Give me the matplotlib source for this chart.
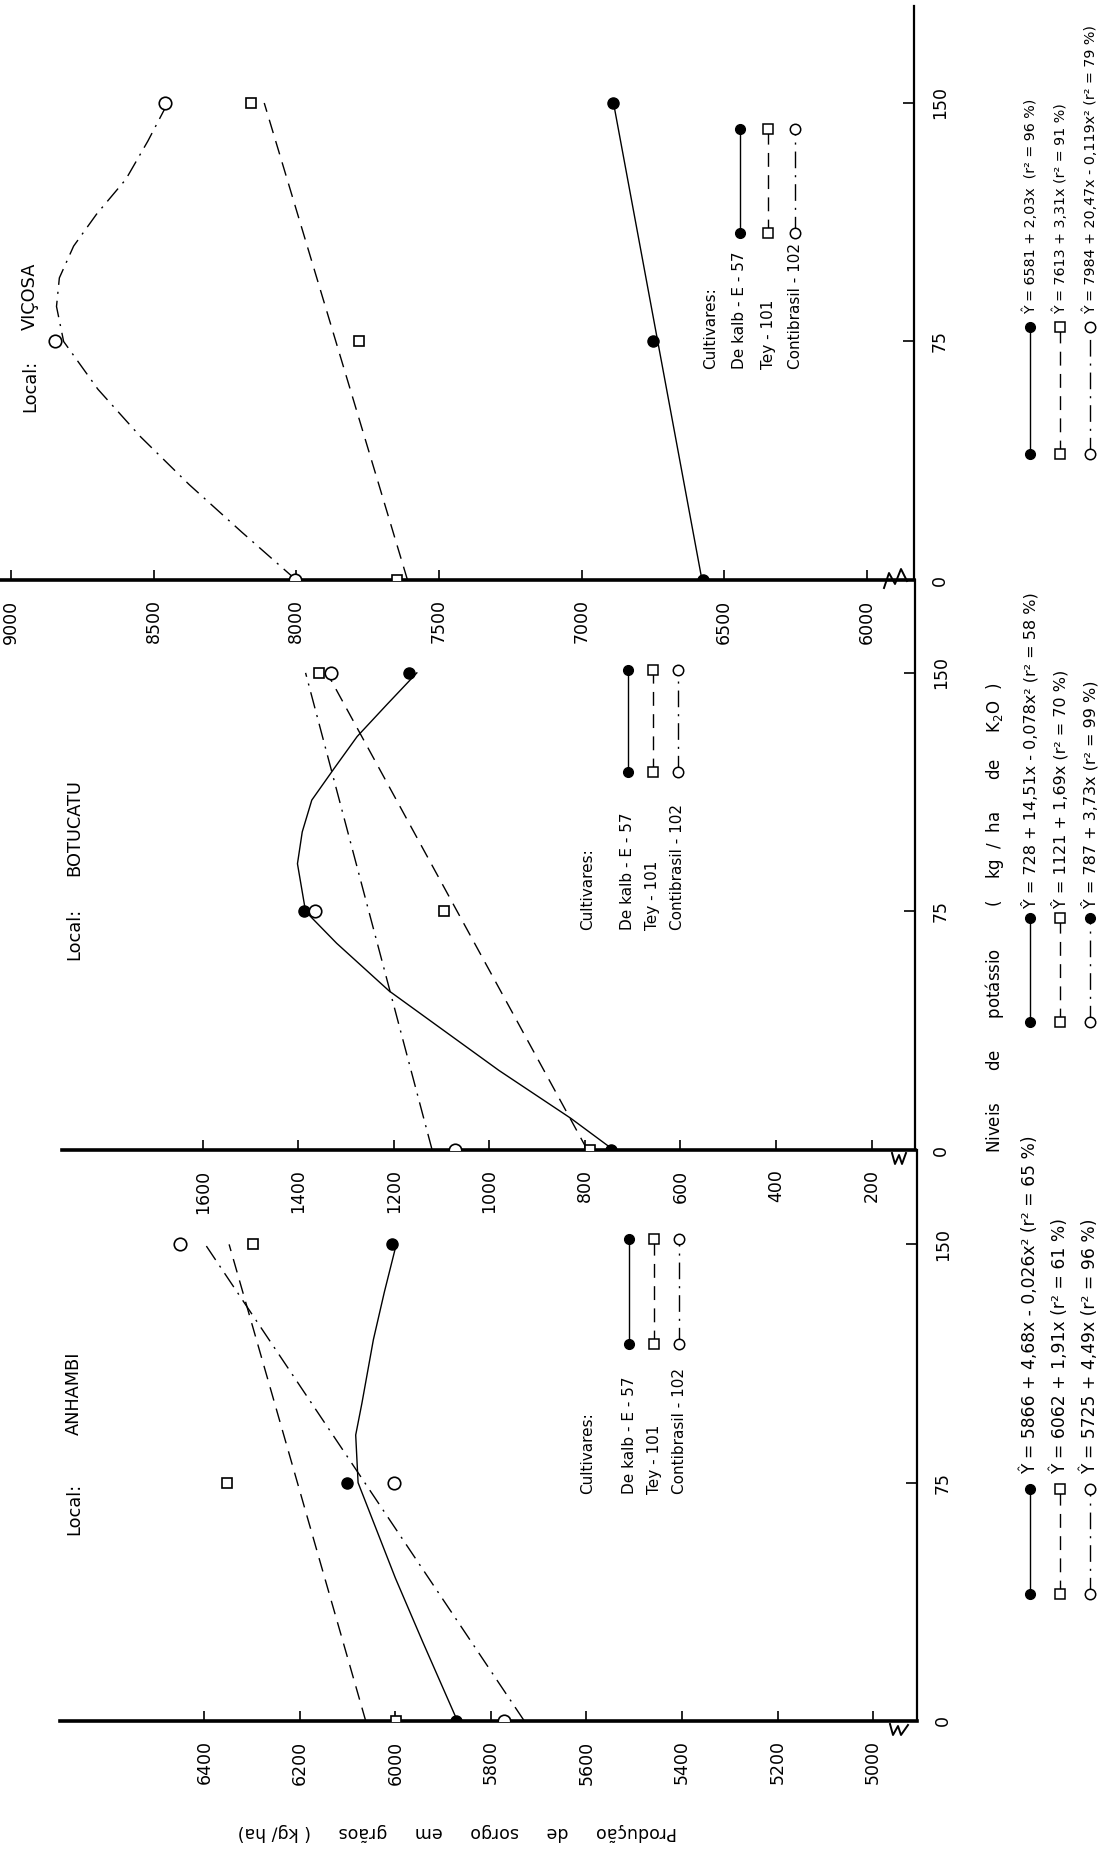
import matplotlib
matplotlib.use("Agg")
import matplotlib.pyplot as plt
from matplotlib.lines import Line2D

plt.rcParams['font.family'] = ['DejaVu Sans']

# ---------------- data ----------------
levels = [0, 75, 150]
fit_ends = [0, 150]
level_ticks = [0, 75, 150]
level_labels = ['0', '75', '150']

# Viçosa
vic_yield_ticks = [9000, 8500, 8000, 7500, 7000, 6500, 6000]
vic_dekalb = [6575, 6748, 6890]
vic_tey = [7646, 7781, 8158]
vic_conti = [8003, 8846, 8459]
vic_dekalb_fit = [6578, 6888]
vic_tey_fit = [7610, 8112]
vic_conti_curve_lv = [0, 15, 30, 45, 60, 75, 86, 95, 105, 115, 126, 138, 150]
vic_conti_curve = [8000, 8190, 8375, 8545, 8695, 8815, 8840, 8830, 8780, 8700, 8597, 8520, 8450]

# Botucatu
bot_yield_ticks = [1600, 1400, 1200, 1000, 800, 600, 400, 200]
bot_dekalb = [745, 1388, 1169]
bot_tey = [790, 1095, 1357]
bot_conti = [1073, 1365, 1331]
bot_dekalb_curve_lv = [0, 10, 25, 50, 65, 75, 90, 100, 110, 120, 130, 140, 150]
bot_dekalb_curve = [740, 830, 980, 1210, 1320, 1385, 1402, 1392, 1372, 1325, 1277, 1215, 1152]
bot_tey_fit = [795, 1340]
bot_conti_fit = [1120, 1385]

# Anhambi
anh_yield_ticks = [6400, 6200, 6000, 5800, 5600, 5400, 5200, 5000]
anh_dekalb = [5872, 6101, 6006]
anh_tey = [5999, 6352, 6297]
anh_conti = [5773, 6002, 6451]
anh_dekalb_curve_lv = [0, 25, 45, 75, 90, 100, 120, 135, 150]
anh_dekalb_curve = [5870, 5943, 6000, 6078, 6083, 6070, 6046, 6023, 5998]
anh_tey_fit = [6062, 6348]
anh_conti_fit = [5730, 6398]

cultivars = ['De kalb - E - 57', 'Tey - 101', 'Contibrasil - 102']
vic_eqs = ['Ŷ = 6581 + 2,03x  (r² = 96 %)',
           'Ŷ = 7613 + 3,31x (r² = 91 %)',
           'Ŷ = 7984 + 20,47x - 0,119x² (r² = 79 %)']
bot_eqs = ['Ŷ = 728 + 14,51x - 0,078x² (r² = 58 %)',
           'Ŷ = 1121 + 1,69x (r² = 70 %)',
           'Ŷ = 787 + 3,73x (r² = 99 %)']
anh_eqs = ['Ŷ = 5866 + 4,68x - 0,026x² (r² = 65 %)',
           'Ŷ = 6062 + 1,91x (r² = 61 %)',
           'Ŷ = 5725 + 4,49x (r² = 96 %)']

# ---------------- figure ----------------
W, H = 1103, 1854
DPI = 100
fig = plt.figure(figsize=(W / DPI, H / DPI), dpi=DPI)
fig.patch.set_facecolor('white')


def fx(x):
    return x / W


def fy(y):
    return 1 - y / H


def add_panel(left, top, right, bottom, xlim, ylim):
    ax = fig.add_axes([fx(left), fy(bottom), (right - left) / W, (bottom - top) / H])
    ax.set_xlim(*xlim)
    ax.set_ylim(*ylim)
    ax.set_facecolor('none')
    for s in ('top', 'left'):
        ax.spines[s].set_visible(False)
    ax.spines['bottom'].set_linewidth(2.6)
    ax.spines['right'].set_linewidth(1.6)
    ax.yaxis.tick_right()
    ax.set_yticks(level_ticks)
    ax.set_yticklabels(level_labels)
    ax.tick_params(axis='y', direction='in', length=8, width=1.2, pad=12,
                   labelsize=12.5, labelrotation=90)
    for lab in ax.get_yticklabels():
        lab.set_va('center')
    ax.tick_params(axis='x', direction='in', length=7, width=1.2, pad=14,
                   labelsize=12.5, labelrotation=90)
    return ax


DASH = (0, (10, 6))
DASHDOT = (0, (12, 5, 1.5, 5))
LW = 1.0


def draw_series(ax, dk, tey, con, dk_fit, tey_fit, con_fit):
    # fitted curves / lines
    ax.plot(dk_fit[1], dk_fit[0], color='black', lw=LW, ls='-', zorder=2)
    ax.plot(tey_fit[1], tey_fit[0], color='black', lw=LW, ls=DASH, zorder=2)
    ax.plot(con_fit[1], con_fit[0], color='black', lw=LW, ls=DASHDOT, zorder=2)
    # observed points
    ax.plot(dk, levels, ls='none', marker='o', ms=8, mfc='black', mec='black', zorder=4)
    ax.plot(tey, levels, ls='none', marker='s', ms=7.5, mfc='white', mec='black', mew=1.2, zorder=4)
    ax.plot(con, levels, ls='none', marker='o', ms=9, mfc='white', mec='black', mew=1.2, zorder=4)


# Viçosa panel
ax_v = add_panel(0, 6, 914, 580, (9038, 5835), (0, 180.5))
ax_v.set_xticks(vic_yield_ticks)
ax_v.set_xticklabels([str(v) for v in vic_yield_ticks])
draw_series(ax_v, vic_dekalb, vic_tey, vic_conti,
            (fit_ends, vic_dekalb_fit), (fit_ends, vic_tey_fit),
            (vic_conti_curve_lv, vic_conti_curve))

# Botucatu panel
ax_b = add_panel(62, 580, 915, 1150, (1895, 109), (0, 179.2))
ax_b.set_xticks(bot_yield_ticks)
ax_b.set_xticklabels([str(v) for v in bot_yield_ticks])
draw_series(ax_b, bot_dekalb, bot_tey, bot_conti,
            (bot_dekalb_curve_lv, bot_dekalb_curve), (fit_ends, bot_tey_fit),
            (fit_ends, bot_conti_fit))

# Anhambi panel
ax_a = add_panel(60, 1150, 917, 1721, (6702, 4908), (0, 179.7))
ax_a.set_xticks(anh_yield_ticks)
ax_a.set_xticklabels([str(v) for v in anh_yield_ticks])
draw_series(ax_a, anh_dekalb, anh_tey, anh_conti,
            (anh_dekalb_curve_lv, anh_dekalb_curve), (fit_ends, anh_tey_fit),
            (fit_ends, anh_conti_fit))


# ---------------- texts & keys ----------------
def vtext(x, y, s, size=11.5):
    fig.text(fx(x), fy(y), s, rotation=90, rotation_mode='anchor',
             ha='left', va='center', fontsize=size, color='black')


def key_line(x, y1, y2, style, left_m, right_m):
    styles = {'solid': '-', 'dash': DASH, 'dashdot': DASHDOT}
    fig.add_artist(Line2D([fx(x), fx(x)], [fy(y1), fy(y2)], transform=fig.transFigure,
                          color='black', lw=LW, ls=styles[style]))
    for (yy, m) in ((y1, left_m), (y2, right_m)):
        if m == 'filled':
            kw = dict(marker='o', ms=7, mfc='black', mec='black')
        elif m == 'square':
            kw = dict(marker='s', ms=6.5, mfc='white', mec='black', mew=1.1)
        else:
            kw = dict(marker='o', ms=7.5, mfc='white', mec='black', mew=1.1)
        fig.add_artist(Line2D([fx(x)], [fy(yy)], transform=fig.transFigure, ls='none', **kw))


key_styles = [('solid', 'filled', 'filled'), ('dash', 'square', 'square'), ('dashdot', 'open', 'open')]

# Local labels
vtext(30, 412, 'Local:', 12.8)
vtext(30, 330, 'VIÇOSA', 12.8)
vtext(74, 960, 'Local:', 12.8)
vtext(74, 876, 'BOTUCATU', 12.8)
vtext(74, 1535, 'Local:', 12.8)
vtext(74, 1435, 'ANHAMBI', 12.8)

# legends inside panels
legend_specs = [
    (711, [740, 768, 795], 369, 233, 129),
    (588, [628, 653, 678], 930, 772, 670),
    (588, [629, 654, 679], 1494, 1344, 1239),
]
for cx, rows, ys, m1, m2 in legend_specs:
    vtext(cx, ys, 'Cultivares:', 11)
    for rx, name, (st, lm, rm) in zip(rows, cultivars, key_styles):
        vtext(rx, ys, name, 11)
        key_line(rx, m1, m2, st, lm, rm)

# equation keys
eq_rows = [1030, 1060, 1090]
eq_specs = [
    (vic_eqs, 454, 327, 314, 10.3, key_styles),
    (bot_eqs, 1022, 918, 908, 11.5,
     [('solid', 'filled', 'filled'), ('dash', 'square', 'square'), ('dashdot', 'open', 'filled')]),
    (anh_eqs, 1594, 1489, 1474, 12.3, key_styles),
]
for eqs, m1, m2, ys, size, sty in eq_specs:
    for rx, eq, (st, lm, rm) in zip(eq_rows, eqs, sty):
        key_line(rx, m1, m2, st, lm, rm)
        vtext(rx, ys, eq, size)

# axis titles
vtext(994, 1153, 'Niveis      de      potássio        (    kg  /  ha      de     K$_2$O  )', 12)
fig.text(fx(457), fy(1832), 'Produção     de     sorgo     em     grãos     ( kg/ ha)',
         rotation=180, ha='center', va='center', fontsize=12.5)

# axis break marks
for pts in ([(884, 588), (889, 573), (895, 584), (901, 569), (907, 581)],
            [(892, 1153), (895, 1164), (899, 1155), (902, 1164), (906, 1153)],
            [(890, 1724), (893, 1735), (898, 1726), (901, 1735), (908, 1725)]):
    fig.add_artist(Line2D([fx(p[0]) for p in pts], [fy(p[1]) for p in pts],
                          transform=fig.transFigure, color='black', lw=1.4))

fig.savefig('out.png', dpi=DPI, facecolor='white')
